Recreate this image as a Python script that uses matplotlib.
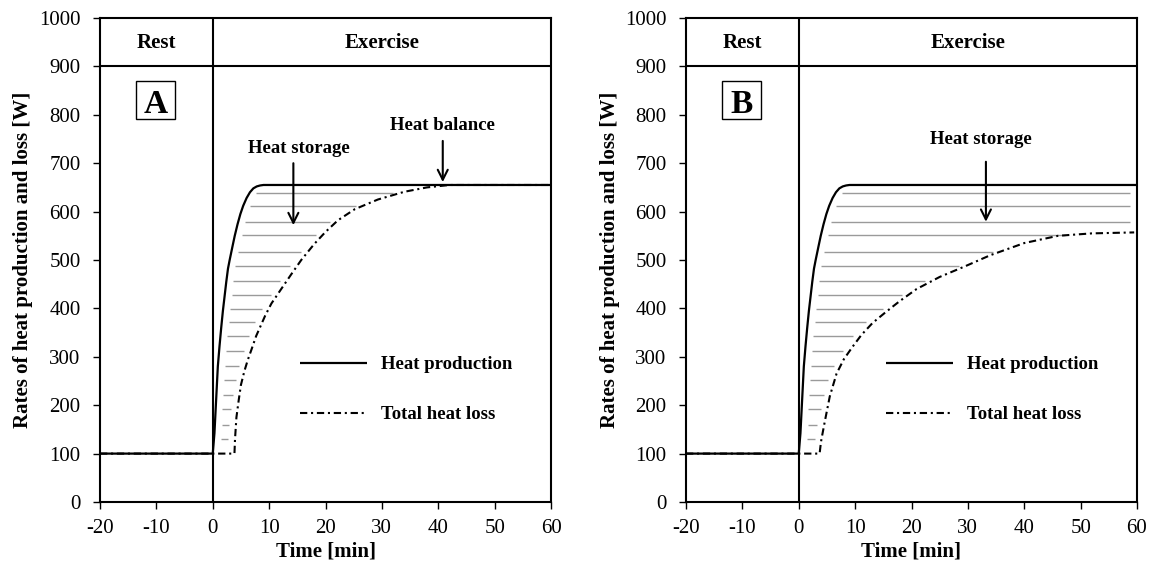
import numpy as np
import matplotlib
matplotlib.use('Agg')
import matplotlib.pyplot as plt
from matplotlib.patches import Rectangle

plt.rcParams['font.family'] = ['Liberation Serif', 'DejaVu Serif']

# ---------------- data ----------------
# Heat production (same in both panels) [min], [W]
prod_t = [-20, 0, 0.3, 0.6, 0.9, 1.2, 1.5, 1.8, 2.1, 2.4, 2.7, 3.0, 3.5, 3.9, 4.4,
          4.9, 5.4, 6.0, 6.6, 7.2, 7.8, 8.4, 9.0, 60]
prod_v = [100, 100, 142, 211, 280, 322, 360, 395, 425, 455, 482, 500, 528, 550, 574,
          595, 612, 628, 640, 648, 652, 654, 655, 655]

# Total heat loss, panel A
lossA_t = [-20, 3.85, 3.95, 4.2, 4.6, 5.0, 5.6, 6.2, 6.9, 7.7, 8.5, 9.3, 10.4, 12.2,
           13.9, 15.7, 18.0, 20.0, 22.2, 25.2, 29.3, 34.0, 38.0, 42.0, 60]
lossA_v = [100, 100, 130, 175, 210, 242, 270, 293, 316, 343, 364, 385, 410, 441,
           470, 500, 533, 558, 582, 605, 625, 641, 650, 655, 655]

# Total heat loss, panel B
lossB_t = [-20, 3.7, 3.85, 4.0, 4.6, 5.5, 6.7, 8.0, 9.5, 11.1, 13.1, 15.5, 17.9,
           20.9, 25.0, 29.5, 34.0, 40.0, 46.0, 52.0, 59.5]
lossB_v = [100, 100, 115, 128, 165, 218, 265, 295, 320, 345, 370, 393, 415,
           440, 465, 487, 510, 535, 550, 555, 557]

# levels of the grey "heat storage" hatching lines [W]
hatch_levels = [131, 160, 192, 222, 253, 281, 312, 342, 371, 399, 428, 456,
                488, 517, 552, 579, 612, 638]

x_ticks = [-20, -10, 0, 10, 20, 30, 40, 50, 60]
y_ticks = [0, 100, 200, 300, 400, 500, 600, 700, 800, 900, 1000]
phase_labels = ['Rest', 'Exercise']
series_labels = ['Heat production', 'Total heat loss']
panel_letters = ['A', 'B']

LOSS_STYLE = (0, (3.5, 1.8, 1, 1.8))
GAP = 1.2


def rising(t, v, start):
    t = np.asarray(t, float)
    v = np.asarray(v, float)
    out_t, out_v = [], []
    for ti, vi in zip(t[start:], v[start:]):
        if out_v and vi <= out_v[-1]:
            break
        out_t.append(ti)
        out_v.append(vi)
    return np.array(out_t), np.array(out_v)


def draw_panel(ax, loss_t, loss_v, letter, notes):
    ax.set_xlim(-20, 60)
    ax.set_ylim(0, 1000)

    # hatching between curves
    pr_t, pr_v = rising(prod_t, prod_v, 1)
    lr_t, lr_v = rising(loss_t, loss_v, 1)
    for lev in hatch_levels:
        xs = np.interp(lev, pr_v, pr_t) + GAP
        if lev <= lr_v.max():
            xe = np.interp(lev, lr_v, lr_t) - GAP
        else:
            xe = 60 - GAP
        ax.hlines(lev, xs, xe, color='#9a9a9a', lw=1.0, zorder=1)

    lp, = ax.plot(prod_t, prod_v, color='black', lw=1.6, zorder=3,
                  solid_capstyle='butt', solid_joinstyle='round')
    ll, = ax.plot(loss_t, loss_v, color='black', lw=1.5, ls=LOSS_STYLE, zorder=2)

    # header separators
    ax.axhline(900, color='black', lw=1.5, zorder=4)
    ax.axvline(0, color='black', lw=1.5, zorder=4)
    ax.text(-10, 948, phase_labels[0], ha='center', va='center',
            fontsize=15, fontweight='bold')
    ax.text(30, 948, phase_labels[1], ha='center', va='center',
            fontsize=15, fontweight='bold')

    # panel letter with a box
    ax.add_patch(Rectangle((-13.65, 791), 6.9, 78, fc='white', ec='black',
                           lw=1.0, zorder=5))
    ax.text(-10.2, 829, letter, ha='center', va='center_baseline', fontsize=24,
            fontweight='bold', zorder=6)

    # annotations
    for label, tx, ty, ax_x, y0, y1 in notes:
        ax.text(tx, ty, label, ha='center', va='center', fontsize=13.5,
                fontweight='bold')
        ax.annotate('', xy=(ax_x, y1), xytext=(ax_x, y0),
                    arrowprops=dict(arrowstyle='->', lw=1.5, color='black',
                                    mutation_scale=18, shrinkA=0, shrinkB=0))

    ax.legend([lp, ll], series_labels, loc='center left',
              bbox_to_anchor=(15.5, 232), bbox_transform=ax.transData,
              frameon=False, borderpad=0, borderaxespad=0,
              handlelength=3.55, handletextpad=0.75, labelspacing=1.75,
              prop=dict(size=13.5, weight='bold'))

    ax.set_xticks(x_ticks)
    ax.set_yticks(y_ticks)
    ax.set_xticklabels([str(v) for v in x_ticks])
    ax.set_yticklabels([str(v) for v in y_ticks])
    ax.tick_params(direction='out', length=5, width=1.0, labelsize=15)
    ax.tick_params(axis='y', pad=9)
    ax.tick_params(axis='x', pad=7)
    for s in ax.spines.values():
        s.set_linewidth(1.5)
    ax.set_xlabel('Time [min]', fontsize=15, fontweight='bold', labelpad=3)
    ax.set_ylabel('Rates of heat production and loss [W]', fontsize=15,
                  fontweight='bold', labelpad=4)


fig = plt.figure(figsize=(11.53, 5.71), dpi=100)
W, H = 1153, 571
axA = fig.add_axes([100 / W, 1 - 502 / H, 451 / W, 484 / H])
axB = fig.add_axes([686 / W, 1 - 502 / H, 451 / W, 484 / H])

draw_panel(axA, lossA_t, lossA_v, panel_letters[0],
           [('Heat storage', 15.2, 731, 14.3, 700, 572),
            ('Heat balance', 40.8, 777, 40.8, 746, 661)])
draw_panel(axB, lossB_t, lossB_v, panel_letters[1],
           [('Heat storage', 32.3, 748, 33.2, 703, 579)])

fig.savefig('out.png', dpi=100)
